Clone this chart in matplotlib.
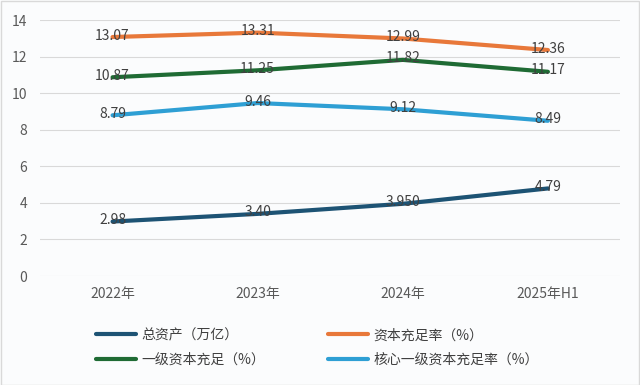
import matplotlib
matplotlib.use("Agg")
import matplotlib.pyplot as plt
from matplotlib.patches import Rectangle

plt.rcParams['font.family'] = ['Noto Sans CJK SC', 'DejaVu Sans']

categories = ["2022年", "2023年", "2024年", "2025年H1"]
total_assets = [2.98, 3.40, 3.950, 4.79]
capital_ratio = [13.07, 13.31, 12.99, 12.36]
tier1_ratio = [10.87, 11.25, 11.82, 11.17]
core_tier1_ratio = [8.79, 9.46, 9.12, 8.49]
labels_assets = ["2.98", "3.40", "3.950", "4.79"]
labels_capital = ["13.07", "13.31", "12.99", "12.36"]
labels_tier1 = ["10.87", "11.25", "11.82", "11.17"]
labels_core = ["8.79", "9.46", "9.12", "8.49"]
series_names = ["总资产（万亿）", "资本充足率（%）", "一级资本充足（%）", "核心一级资本充足率（%）"]

colors = ["#1d5374", "#e8783a", "#1f6b34", "#2e9fd4"]

fig = plt.figure(figsize=(6.4, 3.85), dpi=100)
fig.patch.set_facecolor("#fbfcfd")
fig.add_artist(Rectangle((0.001, 0.001), 0.997, 0.997, transform=fig.transFigure,
                         fill=False, edgecolor="#d9d9d9", linewidth=1))
ax = fig.add_axes([0.0625, 0.283, 0.907, 0.665])
ax.set_facecolor("#fbfcfd")

x = list(range(len(categories)))
series = [total_assets, capital_ratio, tier1_ratio, core_tier1_ratio]
lbls = [labels_assets, labels_capital, labels_tier1, labels_core]
handles = []
for vals, lb, c, name in zip(series, lbls, colors, series_names):
    h, = ax.plot(x, vals, color=c, linewidth=3, solid_capstyle='round', label=name, zorder=3)
    handles.append(h)
    for xi, v, t in zip(x, vals, lb):
        ax.text(xi, v + 0.08, t, ha='center', va='center', fontsize=10,
                color="#404040", zorder=4)

ax.set_xlim(-0.5, 3.5)
ax.set_ylim(0, 14)
ax.set_yticks(range(0, 15, 2))
ax.set_xticks(x)
ax.set_xticklabels(categories)
ax.grid(axis='y', color="#d9d9d9", linewidth=0.8)
ax.set_axisbelow(True)
for s in ax.spines.values():
    s.set_visible(False)
ax.tick_params(axis='both', length=0, labelsize=10, labelcolor="#595959")
ax.tick_params(axis='x', pad=8)
ax.tick_params(axis='y', pad=9)

order = [handles[0], handles[2], handles[1], handles[3]]
leg = fig.legend(order, [h.get_label() for h in order], ncol=2,
                 loc='upper left', bbox_to_anchor=(0.13, 0.18),
                 frameon=False, fontsize=10, handlelength=2.9,
                 columnspacing=4.5, handletextpad=0.4, labelspacing=0.75,
                 labelcolor="#404040")

fig.savefig("out.png", dpi=100, facecolor=fig.get_facecolor())
